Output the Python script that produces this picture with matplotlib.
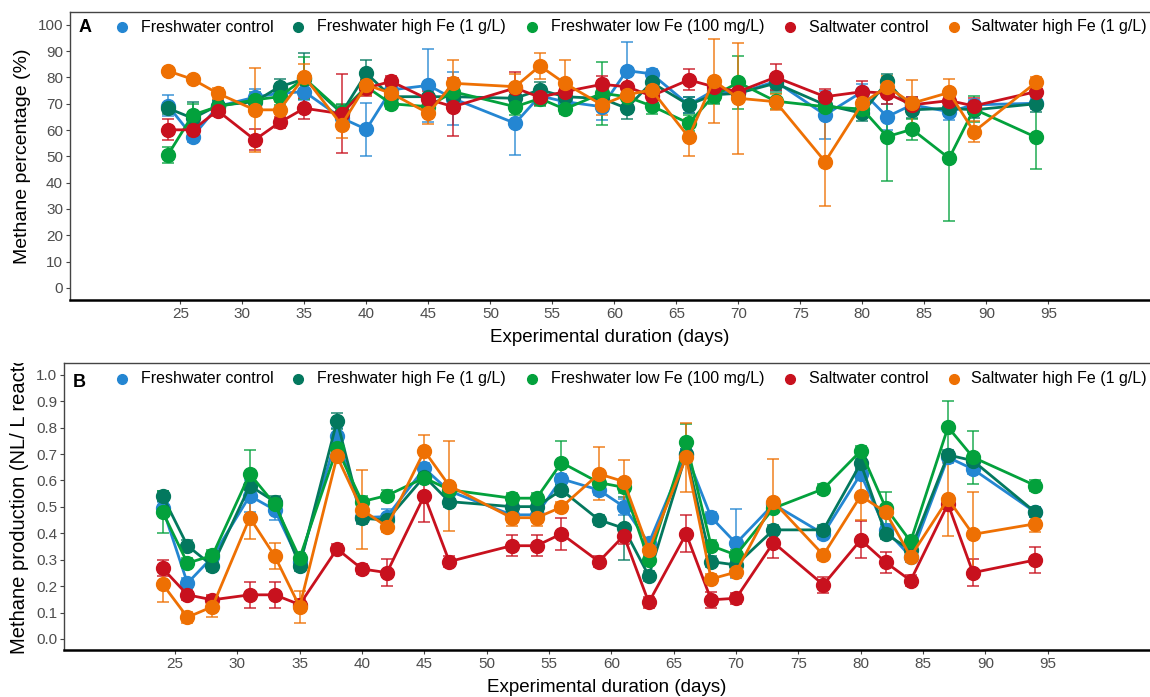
import matplotlib
matplotlib.use('Agg')
import matplotlib.pyplot as plt
from matplotlib.lines import Line2D
from matplotlib.transforms import Bbox

plt.rcParams['font.family'] = ['Liberation Sans', 'DejaVu Sans']

days = [24, 26, 28, 31, 33, 35, 38, 40, 42, 45, 47, 52, 54, 56, 59, 61, 63, 66, 68, 70, 73, 77, 80, 82, 84, 87, 89, 94]
labels = ['Freshwater control', 'Freshwater high Fe (1 g/L)', 'Freshwater low Fe (100 mg/L)',
          'Saltwater control', 'Saltwater high Fe (1 g/L)']
colors = ['#2486D2', '#03785E', '#03A13C', '#C8111E', '#EE7003']

# panel A: methane percentage (%)
pct_fw_ctrl = [69.3, 57.5, 69, 72.5, 74, 74.6, 64.6, 60.3, 75.3, 77, 72, 62.6, 73, 70.8, 68.9, 82.6, 81.4, 69.6, 75, 74, 78.5, 65.8, 74.6, 65.1, 69.6, 67, 69.6, 70.2]
pct_fw_high = [68.3, 64.5, 69.3, 70.8, 76.5, 79.4, 66.5, 81.6, 72.7, 72.7, 72.7, 72.1, 75.3, 72.7, 72, 68.3, 78.1, 69.6, 73.4, 74, 77.8, 69.6, 66.4, 78.5, 67.7, 68.3, 67.7, 70]
pct_fw_low = [50.6, 65.8, 68.9, 71.5, 72.7, 79.7, 67, 76.5, 70, 68.9, 74.6, 68.9, 72, 68, 74, 72.7, 69.2, 62.6, 73, 78.1, 71, 68.9, 68, 57.5, 60.3, 49.3, 68, 57.3]
pct_sw_ctrl = [60.1, 60.1, 67.4, 56.3, 62.9, 68.3, 66.2, 76, 78.5, 71.7, 68.9, 76, 72.5, 74.6, 77.4, 76.5, 73, 79.1, 76.5, 74.6, 80.1, 72.7, 74.6, 74, 69.6, 71.2, 69.2, 74.6]
pct_sw_high = [82.5, 79.3, 74, 67.7, 67.7, 80.3, 62, 77.2, 74, 66.4, 77.8, 76.5, 84.4, 77.8, 69.6, 73.4, 75.3, 57.3, 78.8, 72.1, 70.8, 48, 70.2, 76.5, 70.2, 74.3, 59.4, 78.1]

pct_err_fw_ctrl = [4, 2, 2, 3, 2, 3, 3, 10, 3, 14, 10, 12, 3, 3, 5, 11, 2, 3, 3, 3, 3, 9, 3, 5, 3, 3, 2, 2]
pct_err_fw_high = [2, 6, 2, 2, 3, 10, 3, 5, 2, 3, 3, 3, 3, 3, 3, 4, 3, 3, 3, 3, 3, 3, 3, 3, 3, 3, 3, 3]
pct_err_fw_low = [3, 4, 2, 3, 3, 8, 3, 3, 2, 3, 3, 3, 3, 2, 12, 3, 3, 3, 3, 10, 3, 4, 3, 17, 4, 24, 5, 12]
pct_err_sw_ctrl = [4, 2, 2, 4, 2, 4, 15, 3, 2, 3, 11, 6, 3, 3, 3, 4, 3, 4, 3, 3, 5, 3, 4, 4, 3, 3, 3, 3]
pct_err_sw_high = [1, 1, 2, 16, 3, 5, 5, 4, 3, 4, 9, 5, 5, 9, 4, 4, 3, 7, 16, 21, 3, 17, 4, 4, 9, 5, 4, 2]

# panel B: methane production (NL/ L reactor)
prod_fw_ctrl = [0.497, 0.211, 0.31, 0.542, 0.489, 0.29, 0.769, 0.46, 0.463, 0.646, 0.56, 0.47, 0.47, 0.606, 0.564, 0.501, 0.362, 0.70, 0.461, 0.362, 0.51, 0.398, 0.625, 0.413, 0.312, 0.688, 0.643, 0.48]
prod_fw_high = [0.542, 0.353, 0.277, 0.580, 0.520, 0.277, 0.826, 0.457, 0.45, 0.615, 0.520, 0.501, 0.501, 0.564, 0.451, 0.419, 0.239, 0.70, 0.293, 0.280, 0.413, 0.413, 0.665, 0.398, 0.337, 0.697, 0.675, 0.480]
prod_fw_low = [0.482, 0.287, 0.316, 0.625, 0.51, 0.306, 0.722, 0.520, 0.543, 0.61, 0.565, 0.533, 0.533, 0.668, 0.592, 0.574, 0.299, 0.744, 0.353, 0.318, 0.495, 0.568, 0.712, 0.497, 0.369, 0.802, 0.688, 0.581]
prod_sw_ctrl = [0.268, 0.167, 0.148, 0.167, 0.167, 0.13, 0.341, 0.265, 0.251, 0.543, 0.293, 0.353, 0.353, 0.398, 0.293, 0.391, 0.138, 0.398, 0.148, 0.154, 0.365, 0.205, 0.375, 0.290, 0.221, 0.511, 0.251, 0.299]
prod_sw_high = [0.208, 0.082, 0.122, 0.459, 0.314, 0.122, 0.691, 0.489, 0.425, 0.712, 0.580, 0.459, 0.459, 0.499, 0.625, 0.596, 0.337, 0.688, 0.227, 0.253, 0.520, 0.318, 0.542, 0.480, 0.312, 0.530, 0.396, 0.436]

prod_err_fw_ctrl = [.02, .02, .02, .06, .04, .02, .03, .02, .03, .02, .03, .02, .02, .02, .02, .03, .02, .02, .02, .13, .02, .02, .02, .02, .02, .02, .02, .02]
prod_err_fw_high = [.02, .02, .02, .03, .02, .02, .03, .02, .02, .02, .02, .02, .02, .02, .02, .12, .02, .02, .02, .02, .02, .02, .02, .02, .02, .02, .02, .02]
prod_err_fw_low = [.08, .02, .02, .09, .02, .02, .03, .02, .02, .02, .02, .02, .02, .08, .02, .02, .02, .07, .02, .02, .02, .02, .02, .06, .02, .10, .10, .02]
prod_err_sw_ctrl = [.03, .02, .02, .05, .05, .02, .02, .02, .05, .10, .02, .04, .04, .06, .02, .03, .02, .07, .03, .02, .06, .03, .07, .04, .02, .02, .05, .05]
prod_err_sw_high = [.07, .02, .04, .08, .05, .06, .02, .15, .02, .06, .17, .03, .03, .02, .10, .08, .02, .13, .02, .02, .16, .02, .09, .02, .02, .14, .16, .03]

pct = [pct_fw_ctrl, pct_fw_high, pct_fw_low, pct_sw_ctrl, pct_sw_high]
pct_err = [pct_err_fw_ctrl, pct_err_fw_high, pct_err_fw_low, pct_err_sw_ctrl, pct_err_sw_high]
prod = [prod_fw_ctrl, prod_fw_high, prod_fw_low, prod_sw_ctrl, prod_sw_high]
prod_err = [prod_err_fw_ctrl, prod_err_fw_high, prod_err_fw_low, prod_err_sw_ctrl, prod_err_sw_high]

W, H = 1150, 697
fig = plt.figure(figsize=(W / 100, H / 100), dpi=100)
axA = fig.add_axes([70 / W, 1 - 300 / H, 1 - 70 / W, 288 / H])
axB = fig.add_axes([64 / W, 1 - 650 / H, 1 - 64 / W, 287 / H])

# legend key positions (pixels): marker x, text x
key_marker_x = [122, 298, 532, 790, 954]
key_text_x = [141, 317, 551, 809, 971]


def draw(ax, vals, errs):
    for v, e, c in zip(vals, errs, colors):
        ax.errorbar(days, v, yerr=e, fmt='none', ecolor=c, elinewidth=1.3,
                    capsize=4, capthick=1.3, alpha=0.75, zorder=2)
        ax.plot(days, v, '-o', color=c, lw=2, ms=10, zorder=3)
    ax.set_xlim(16.1, 103.2)
    ax.set_xticks(range(25, 100, 5))
    for s in ['left', 'top']:
        ax.spines[s].set_color('#444444')
        ax.spines[s].set_linewidth(1.0)
    ax.spines['right'].set_visible(False)
    ax.spines['bottom'].set_color('black')
    ax.spines['bottom'].set_linewidth(1.8)
    ax.tick_params(length=3, color='#444444', labelcolor='#4d4d4d', labelsize=11, pad=2)
    ax.set_xlabel('Experimental duration (days)', fontsize=13.5)
    ax.xaxis.set_label_coords(0.5, -0.1)


def keys(y_px):
    y = 1 - y_px / H
    for mx, tx, c, lab in zip(key_marker_x, key_text_x, colors, labels):
        fig.add_artist(Line2D([mx / W], [y], transform=fig.transFigure, marker='o',
                              ls='none', color=c, ms=7))
        fig.text(tx / W, y, lab, fontsize=11.5, ha='left', va='center')


draw(axA, pct, pct_err)
axA.set_ylim(-4.6, 104.9)
axA.set_yticks(range(0, 101, 10))
axA.set_ylabel('Methane percentage (%)', fontsize=14)
axA.yaxis.set_label_coords(-0.036, 0.5)
fig.text(85 / W, 1 - 28 / H, 'A', fontsize=13, fontweight='bold', ha='center', va='center')
keys(27)

draw(axB, prod, prod_err)
axB.set_ylim(-0.042, 1.045)
axB.set_yticks([i / 10 for i in range(11)])
axB.set_yticklabels(['%.1f' % (i / 10) for i in range(11)])
axB.set_ylabel('Methane production (NL/ L reactor)', fontsize=14.5)
axB.yaxis.set_label_coords(-0.032, 0.53)
axB.yaxis.label.set_clip_box(Bbox.from_extents(0, 0, W, H - 363))
axB.yaxis.label.set_clip_on(True)
fig.text(79 / W, 1 - 383 / H, 'B', fontsize=13, fontweight='bold', ha='center', va='center')
keys(379)

fig.savefig('out.png', dpi=100)
